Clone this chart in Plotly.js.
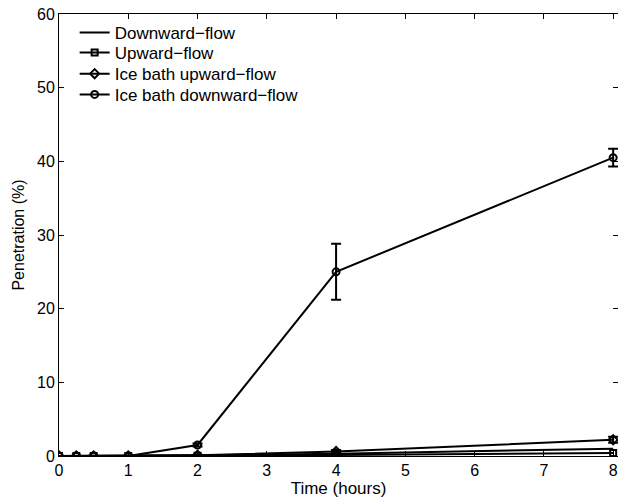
<!DOCTYPE html>
<html>
<head>
<meta charset="utf-8">
<script src="https://cdn.plot.ly/plotly-3.0.1.min.js"></script>
<style>html,body{margin:0;padding:0;background:#fff;}#chart{width:618px;height:501px;}</style>
</head>
<body>
<div id="chart"></div>
<script>
// Data
const time = [0, 0.25, 0.5, 1, 2, 4, 8];
const seriesNames = ["Downward\u2212flow", "Upward\u2212flow", "Ice bath upward\u2212flow", "Ice bath downward\u2212flow"];
const downward = [0, 0, 0, 0, 0.1, 0.3, 1.0];
const upward = [0, 0, 0, 0, 0.05, 0.15, 0.4];
const iceUpward = [0, 0, 0, 0, 0.1, 0.6, 2.2];
const iceUpwardErr = [0, 0, 0, 0, 0, 0.2, 0.4];
const iceDownward = [0, 0, 0, 0, 1.5, 25.0, 40.5];
const iceDownwardErr = [0, 0, 0, 0, 0.2, 3.8, 1.2];
const xTicks = [0, 1, 2, 3, 4, 5, 6, 7, 8];
const yTicks = [0, 10, 20, 30, 40, 50, 60];

const lineStyle = {color: "#000", width: 2};
const traces = [
  {x: time, y: downward, name: seriesNames[0], mode: "lines", line: lineStyle, legend: "legend"},
  {x: time, y: upward, name: seriesNames[1], mode: "lines+markers", line: lineStyle, legend: "legend2",
   marker: {symbol: "square-open", size: 6, color: "#000", line: {width: 2, color: "#000"}}},
  {x: time, y: iceUpward, name: seriesNames[2], mode: "lines+markers", line: lineStyle, legend: "legend3",
   marker: {symbol: "diamond-open", size: 7, color: "#000", line: {width: 2, color: "#000"}},
   error_y: {type: "data", array: iceUpwardErr, visible: true, color: "#000", thickness: 2, width: 5}},
  {x: time, y: iceDownward, name: seriesNames[3], mode: "lines+markers", line: lineStyle, legend: "legend4",
   marker: {symbol: "circle-open", size: 7, color: "#000", line: {width: 2, color: "#000"}},
   error_y: {type: "data", array: iceDownwardErr, visible: true, color: "#000", thickness: 2, width: 5}}
];

const fontFam = "Liberation Sans, Arial, sans-serif";
function leg(y) {
  return {x: 0.028, y: y, xanchor: "left", yanchor: "middle", bgcolor: "rgba(255,255,255,0)",
          borderwidth: 0, font: {family: fontFam, size: 17, color: "#000"}, itemwidth: 30};
}
const layout = {
  width: 618, height: 501,
  margin: {l: 59, r: 0, t: 14, b: 45},
  paper_bgcolor: "#fff", plot_bgcolor: "#fff",
  font: {family: fontFam, size: 16, color: "#000"},
  showlegend: true,
  legend: leg(0.957),
  legend2: leg(0.912),
  legend3: leg(0.864),
  legend4: leg(0.817),
  xaxis: {
    range: [0, 8.07], tickvals: xTicks, ticktext: xTicks.map(String),
    ticks: "inside", ticklen: 5, tickcolor: "#000", tickwidth: 1,
    showline: true, linecolor: "#000", linewidth: 1, mirror: "ticks",
    showgrid: false, zeroline: false,
    title: {text: "Time (hours)", font: {size: 17}, standoff: 2},
    tickfont: {size: 16}
  },
  yaxis: {
    range: [0, 60], tickvals: yTicks, ticktext: yTicks.map(String),
    ticks: "inside", ticklen: 5, tickcolor: "#000", tickwidth: 1,
    showline: true, linecolor: "#000", linewidth: 1, mirror: "ticks",
    showgrid: false, zeroline: false,
    title: {text: "Penetration (%)", font: {size: 16}, standoff: 8},
    tickfont: {size: 16}
  }
};
Plotly.newPlot("chart", traces, layout, {displayModeBar: false, staticPlot: true});
</script>
</body>
</html>
